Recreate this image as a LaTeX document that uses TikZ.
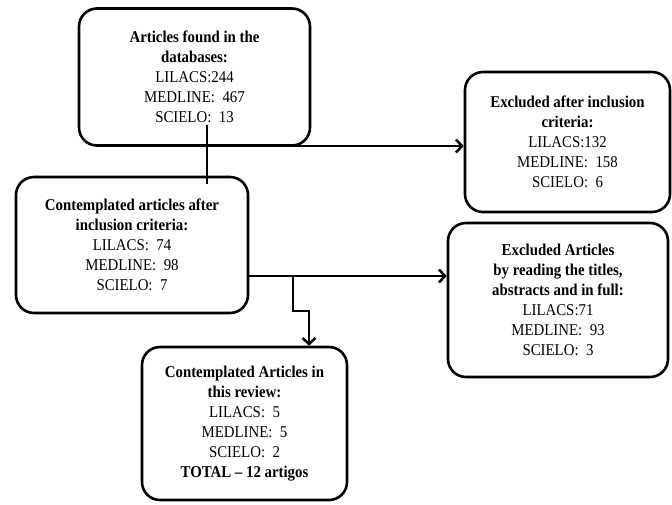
\documentclass[tikz,border=0pt]{standalone}
\usepackage{fontspec}
\setmainfont[FakeStretch=0.9]{Liberation Serif}
\usetikzlibrary{arrows.meta}
\begin{document}
\begin{tikzpicture}[x=1pt,y=-1pt,
  boxnode/.style={draw, line width=2.6pt, rounded corners=18pt, align=center,
    inner sep=0pt, font=\fontsize{16.5}{20}\selectfont},
  conn/.style={line width=2.5pt},
  arr/.style={conn, -{Straight Barb[length=6pt,width=13pt,line width=2.5pt]}}]
\useasboundingbox (0,0) rectangle (672,504);
\node[boxnode, minimum width=231pt, minimum height=137pt] (b1) at (194.5,77)
  {\textbf{Articles found in the}\\\textbf{databases:}\\LILACS:244\\MEDLINE:\ \ 467\\SCIELO:\ \ 13};
\node[boxnode, minimum width=205pt, minimum height=140pt] (b2) at (567.5,142)
  {\textbf{Excluded after inclusion}\\\textbf{criteria:}\\LILACS:132\\MEDLINE:\ \ 158\\SCIELO:\ \ 6};
\node[boxnode, minimum width=232pt, minimum height=136pt] (b3) at (132,245)
  {\textbf{Contemplated articles after}\\\textbf{inclusion criteria:}\\LILACS:\ \ 74\\MEDLINE:\ \ 98\\SCIELO:\ \ 7};
\node[boxnode, minimum width=220pt, minimum height=154pt] (b4) at (558,300)
  {\textbf{Excluded Articles}\\\textbf{by reading the titles,}\\\textbf{abstracts and in full:}\\LILACS:71\\MEDLINE:\ \ 93\\SCIELO:\ \ 3};
\node[boxnode, minimum width=205pt, minimum height=153pt] (b5) at (244.5,423.5)
  {\textbf{Contemplated Articles in}\\\textbf{this review:}\\LILACS:\ \ 5\\MEDLINE:\ \ 5\\SCIELO:\ \ 2\\\textbf{TOTAL -- 12 artigos}};
\coordinate (v1) at (207,125);
\coordinate (v2) at (207,184);
\coordinate (j1) at (207,146);
\coordinate (j2) at (b3.east |- 0,276);
\coordinate (k1) at (293,276);
\coordinate (k2) at (309,311);
\draw[conn] (v1) -- (v2);
\draw[arr] (j1) -- (j1 -| b2.west);
\draw[arr] (j2) -- (j2 -| b4.west);
\draw[arr] (k1) |- (k2) -- (k2 |- b5.north);
\end{tikzpicture}
\end{document}
